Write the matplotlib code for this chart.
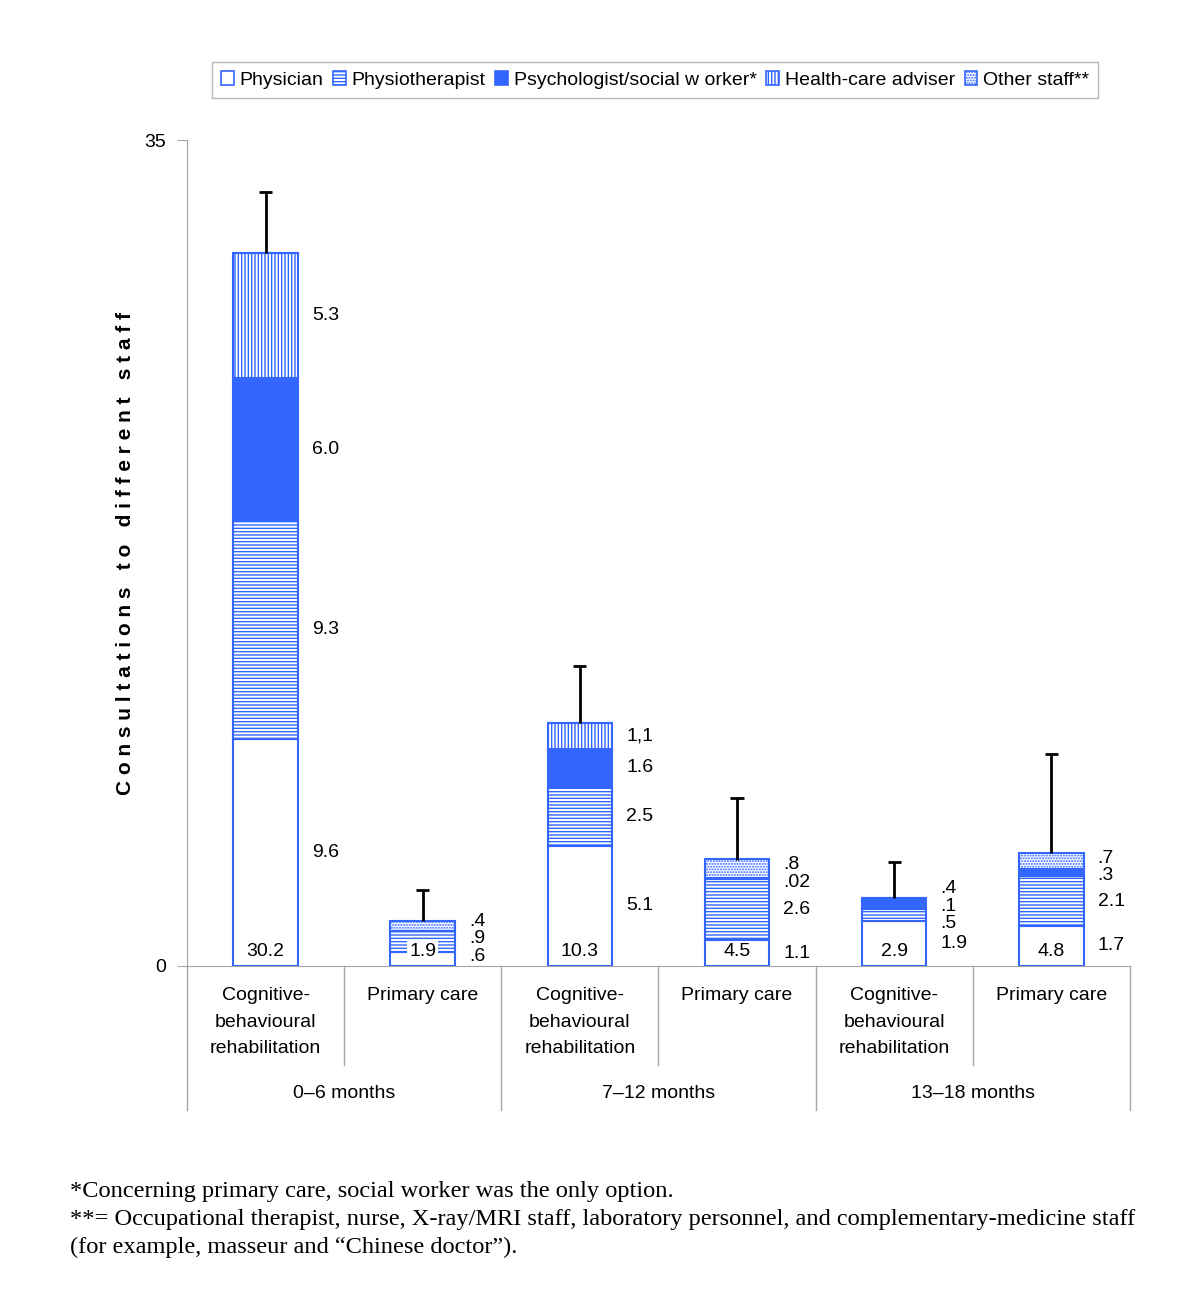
import numpy as np
import matplotlib
matplotlib.use("Agg")
import matplotlib.pyplot as plt
from matplotlib.patches import Patch

# data
categories = ["Cognitive-\nbehavioural\nrehabilitation", "Primary care"] * 3
periods = ["0\u20136 months", "7\u201312 months", "13\u201318 months"]
physician = [9.6, 0.6, 5.1, 1.1, 1.9, 1.7]
physio = [9.3, 0.9, 2.5, 2.6, 0.5, 2.1]
psych = [6.0, 0.0, 1.6, 0.02, 0.4, 0.3]
adviser = [5.3, 0.0, 1.1, 0.0, 0.1, 0.0]
other = [0.0, 0.4, 0.0, 0.8, 0.0, 0.7]
totals = [30.2, 1.9, 10.3, 4.5, 2.9, 4.8]
errors = [2.6, 1.3, 2.4, 2.6, 1.5, 4.2]
seg_labels = [["9.6", "9.3", "6.0", "5.3"], [".6", ".9", ".4"],
              ["5.1", "2.5", "1.6", "1,1"], ["1.1", "2.6", ".02", ".8"],
              ["1.9", ".5", ".1", ".4"], ["1.7", "2.1", ".3", ".7"]]
series_names = ["Physician", "Physiotherapist", "Psychologist/social w orker*",
                "Health-care adviser", "Other staff**"]

blue = "#3366ff"
grey = "#a6a6a6"
plt.rcParams['font.family'] = ['Liberation Sans', 'DejaVu Sans']
plt.rcParams['hatch.linewidth'] = 1.0

fig = plt.figure(figsize=(12, 13.15), dpi=100)
ax = fig.add_axes([0.1558, 0.2654, 0.7858, 0.6281])

x = np.arange(len(totals))
w = 0.41
styles = [dict(color="white", hatch=None), dict(color="white", hatch="-----"),
          dict(color=blue, hatch=None), dict(color="white", hatch="|||||"),
          dict(color="white", hatch="......")]
series = [physician, physio, psych, adviser, other]

bottom = np.zeros(len(x))
for vals, st in zip(series, styles):
    vals = np.array(vals)
    ax.bar(x, vals, w, bottom=bottom, color=st["color"], edgecolor=blue,
           hatch=st["hatch"], linewidth=1.5, zorder=2)
    bottom += vals

# error bars (upper only)
ax.vlines(x, totals, np.array(totals) + np.array(errors), color="black", lw=2, zorder=3)
ax.hlines(np.array(totals) + np.array(errors), x - 0.042, x + 0.042, color="black", lw=2, zorder=3)

# totals inside bar
for xi, t in zip(x, totals):
    ax.text(xi, 0.6, f"{t:.1f}", ha="center", va="center", fontsize=14, zorder=4,
            bbox=dict(facecolor="white", edgecolor="none", pad=1.5))

# segment labels to the right, spread so they don't overlap
gap = 0.75
for i in range(len(x)):
    segs = [s[i] for s in series]
    cum = np.cumsum(segs)
    mids = [c - s / 2 for c, s in zip(cum, segs) if s > 0]
    ys = list(mids)
    for _ in range(200):
        for j in range(1, len(ys)):
            d = ys[j] - ys[j - 1]
            if d < gap:
                sh = (gap - d) / 2
                ys[j - 1] -= sh
                ys[j] += sh
        ys[0] = max(ys[0], 0.4)
    for yy, lab in zip(ys, seg_labels[i]):
        ax.text(x[i] + w / 2 + 0.09, yy, lab, ha="left", va="center", fontsize=14)

ax.set_xlim(-0.5, 5.5)
ax.set_ylim(0, 35)
ax.set_yticks([0, 35])
ax.set_xticks([])
ax.tick_params(axis="y", length=7, color=grey, labelsize=14, pad=8)
for s in ["top", "right"]:
    ax.spines[s].set_visible(False)
for s in ["left", "bottom"]:
    ax.spines[s].set_color(grey)

ylab = "   ".join(" ".join(word) for word in "Consultations to different staff".split())
ax.set_ylabel(ylab, fontsize=15, fontweight="bold", labelpad=7)

# category axis
tr = ax.get_xaxis_transform()
for xs in [-0.5, 1.5, 3.5, 5.5]:
    ax.plot([xs, xs], [0, -0.174], color=grey, lw=1, transform=tr, clip_on=False)
for xs in [0.5, 2.5, 4.5]:
    ax.plot([xs, xs], [0, -0.12], color=grey, lw=1, transform=tr, clip_on=False)
for xi, c in zip(x, categories):
    ax.text(xi, -0.026, c, transform=tr, ha="center", va="top", fontsize=14,
            linespacing=1.7)
for k, p in enumerate(periods):
    ax.text(2 * k + 0.5, -0.154, p, transform=tr, ha="center", va="center", fontsize=14)

# legend
handles = [Patch(facecolor=st["color"], edgecolor=blue, hatch=st["hatch"], lw=1.2)
           for st in styles]
leg = fig.legend(handles, series_names, loc="center", bbox_to_anchor=(0.546, 0.9392),
                 ncol=5, fontsize=14, frameon=True, fancybox=False, handlelength=0.65,
                 handleheight=0.75, handletextpad=0.3, columnspacing=0.5,
                 borderpad=0.45)
leg.get_frame().set_edgecolor(grey)
leg.get_frame().set_linewidth(1)

# footnotes
serif = ['Liberation Serif', 'DejaVu Serif']
fig.text(0.058, 1 - 1192 / 1315, "*Concerning primary care, social worker was the only option.",
         family=serif, fontsize=17.6, va="center")
fig.text(0.058, 1 - 1219 / 1315,
         "**= Occupational therapist, nurse, X-ray/MRI staff, laboratory personnel, and complementary-medicine staff",
         family=serif, fontsize=17.6, va="center")
fig.text(0.058, 1 - 1247 / 1315, "(for example, masseur and \u201cChinese doctor\u201d).",
         family=serif, fontsize=17.6, va="center")

fig.savefig("out.png", dpi=100)
